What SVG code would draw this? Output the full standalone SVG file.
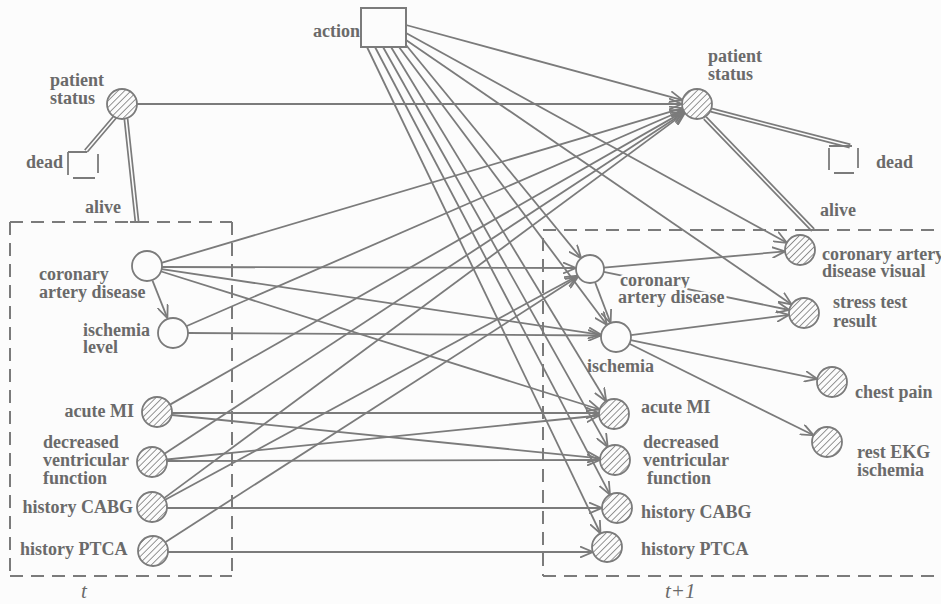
<svg xmlns="http://www.w3.org/2000/svg" width="941" height="604" viewBox="0 0 941 604">
<style>
.bg{fill:#fcfcfc}
.e{stroke:#7b7b7b;stroke-width:1.8;fill:none;marker-end:url(#ah)}
.ln{stroke:#7b7b7b;stroke-width:1.8;fill:none}
.dash{stroke:#7b7b7b;stroke-width:2;fill:none;stroke-dasharray:13 8}
.dbl{stroke:#7b7b7b;stroke-width:5;fill:none}
.dbli{stroke:#fcfcfc;stroke-width:1.6;fill:none}
.ch{fill:url(#hatch);stroke:#7b7b7b;stroke-width:1.8}
.co{fill:#fcfcfc;stroke:#7b7b7b;stroke-width:1.8}
.box{fill:#fcfcfc;stroke:#7b7b7b;stroke-width:2}
text{font-family:"Liberation Serif","Times New Roman",serif;font-weight:bold;font-size:18px;fill:#6a6a6a}
.it{font-style:italic;font-weight:normal;font-size:21px}
.halo{stroke:#fcfcfc;stroke-width:5;paint-order:stroke}
</style>
<defs>
<pattern id="hatch" patternUnits="userSpaceOnUse" width="4.6" height="4.6" patternTransform="rotate(45)">
<rect width="4.6" height="4.6" fill="#fcfcfc"/>
<line x1="0" y1="0" x2="0" y2="4.6" stroke="#7b7b7b" stroke-width="1.6"/>
</pattern>
<marker id="ah" markerUnits="userSpaceOnUse" markerWidth="14" markerHeight="12" viewBox="0 0 14 12" refX="13" refY="6" orient="auto">
<path d="M0,0.5 L13,6 L0,11.5" fill="none" stroke="#7b7b7b" stroke-width="1.8"/>
</marker>
</defs>
<rect class="bg" x="0" y="0" width="941" height="604"/>

<g id="frames">
<path class="dash" d="M10,222 H232 M10,222 V576 M10,576 H232 M232,222 V576"/>
<path class="dash" d="M543,230 H941 M543,238 V576 M543,576 H941"/>
</g>

<g id="connectors">
<!-- action -->
<line class="e" x1="406" y1="25" x2="682.5" y2="100.1"/>
<line class="e" x1="406" y1="33" x2="786.9" y2="242.8"/>
<line class="e" x1="406" y1="40" x2="791.6" y2="304.5"/>
<line class="e" x1="406" y1="45" x2="581.1" y2="258.2"/>
<line class="e" x1="399" y1="47" x2="607" y2="325"/>
<line class="e" x1="391" y1="47" x2="606.2" y2="401.2"/>
<line class="e" x1="383" y1="47" x2="607.7" y2="446.9"/>
<line class="e" x1="375" y1="47" x2="610" y2="494.7"/>
<line class="e" x1="367" y1="47" x2="600.5" y2="533.5"/>
<!-- patient status t -->
<line class="e" x1="137" y1="104" x2="682" y2="104"/>
<!-- coronary artery disease t -->
<line class="e" x1="161.4" y1="262.8" x2="682.6" y2="108.2"/>
<line class="e" x1="162" y1="267" x2="576" y2="268"/>
<line class="e" x1="161.8" y1="269.2" x2="601.2" y2="334.8"/>
<line class="e" x1="161.3" y1="271.5" x2="599.7" y2="409.5"/>
<line class="e" x1="152.6" y1="280.9" x2="167.4" y2="318.1"/>
<!-- ischemia level t -->
<line class="e" x1="186.8" y1="326" x2="683.2" y2="110"/>
<line class="e" x1="188" y1="333" x2="601" y2="335.5"/>
<!-- acute MI t -->
<line class="e" x1="170" y1="404.6" x2="684" y2="111.4"/>
<line class="e" x1="172" y1="413" x2="599" y2="413"/>
<line class="e" x1="171.9" y1="415" x2="600.1" y2="458.4"/>
<!-- decreased ventricular function t -->
<line class="e" x1="164.5" y1="453.8" x2="684.5" y2="112.2"/>
<line class="e" x1="166.9" y1="459.5" x2="599.1" y2="415.5"/>
<line class="e" x1="167" y1="461" x2="600" y2="460"/>
<!-- history CABG t -->
<line class="e" x1="164.1" y1="498.1" x2="684.9" y2="112.9"/>
<line class="e" x1="165.2" y1="499.8" x2="577.7" y2="275.7"/>
<line class="e" x1="167" y1="508" x2="602" y2="508"/>
<!-- history PTCA t -->
<line class="e" x1="165.6" y1="541.9" x2="578.2" y2="276.6"/>
<line class="e" x1="168" y1="552" x2="593" y2="552"/>
<!-- t+1 internal -->
<line class="e" x1="595" y1="282.1" x2="610.6" y2="323"/>
<line class="e" x1="604" y1="267.7" x2="785" y2="251.4"/>
<line class="e" x1="603.7" y1="271.8" x2="789.3" y2="310"/>
<line class="e" x1="630.9" y1="335.1" x2="789.1" y2="314.9"/>
<line class="e" x1="630.7" y1="340.1" x2="817.3" y2="378.9"/>
<line class="e" x1="629.4" y1="343.7" x2="813.6" y2="435.3"/>
<!-- dead / alive double links -->
<path class="dbl" d="M115,117 L86,151 M126,119 L137,222 M711,110 L850,146 M705,118 L813,230"/>
<path class="dbli" d="M115,117 L86,151 M126,119 L137,222 M711,110 L850,146 M705,118 L813,230"/>
<path class="ln" d="M130,222 H144 M806,230 H820"/>
</g>

<g id="action">
<rect class="box" x="361" y="8" width="45" height="39"/>
<text x="313" y="37">action</text>
</g>

<g id="ps-t">
<circle class="ch" cx="122" cy="104" r="15"/>
<text x="50" y="86">patient</text>
<text x="50" y="104">status</text>
</g>
<g id="dead-t">
<path class="ln" d="M68,152 H87 M68,152 V175 M98,154 V173 M73,178 H95" stroke-width="2"/>
<text x="26" y="168">dead</text>
</g>
<g id="alive-t"><text x="85" y="213">alive</text></g>
<g id="cad-t">
<circle class="co" cx="147" cy="266" r="15"/>
<text x="39" y="280">coronary</text>
<text x="39" y="298">artery disease</text>
</g>
<g id="isch-t">
<circle class="co" cx="173" cy="333" r="15"/>
<text x="83" y="336">ischemia</text>
<text x="83" y="353">level</text>
</g>
<g id="ami-t">
<circle class="ch" cx="157" cy="412" r="15"/>
<text x="134" y="417" text-anchor="end">acute MI</text>
</g>
<g id="dvf-t">
<circle class="ch" cx="152" cy="462" r="15"/>
<text x="43" y="448">decreased</text>
<text x="43" y="466">ventricular</text>
<text x="43" y="484">function</text>
</g>
<g id="cabg-t">
<circle class="ch" cx="152" cy="507" r="15"/>
<text x="133" y="513" text-anchor="end">history CABG</text>
</g>
<g id="ptca-t">
<circle class="ch" cx="153" cy="551" r="15"/>
<text x="20" y="555">history PTCA</text>
</g>
<g id="label-t"><text class="it" x="81" y="598">t</text></g>

<g id="ps-t1">
<circle class="ch" cx="697" cy="104" r="15"/>
<text x="708" y="62">patient</text>
<text x="708" y="80">status</text>
</g>
<g id="dead-t1">
<path class="ln" d="M829,146 H852 M829,148 V170 M858,148 V168 M834,173 H854" stroke-width="2"/>
<text x="876" y="168">dead</text>
</g>
<g id="alive-t1"><text x="820" y="216">alive</text></g>
<g id="cad-t1">
<circle class="co" cx="590" cy="269" r="14"/>
<text class="halo" x="620" y="286">coronary</text>
<text class="halo" x="618" y="303">artery disease</text>
</g>
<g id="isch-t1">
<circle class="co" cx="616" cy="337" r="15"/>
<text x="587" y="372">ischemia</text>
</g>
<g id="ami-t1">
<circle class="ch" cx="614" cy="414" r="15"/>
<text x="641" y="413">acute MI</text>
</g>
<g id="dvf-t1">
<circle class="ch" cx="615" cy="460" r="15"/>
<text x="643" y="448">decreased</text>
<text x="643" y="466">ventricular</text>
<text x="647" y="484">function</text>
</g>
<g id="cabg-t1">
<circle class="ch" cx="617" cy="508" r="15"/>
<text x="641" y="518">history CABG</text>
</g>
<g id="ptca-t1">
<circle class="ch" cx="607" cy="547" r="15"/>
<text x="641" y="555">history PTCA</text>
</g>
<g id="label-t1"><text class="it" x="665" y="598">t+1</text></g>

<g id="cad-visual">
<circle class="ch" cx="800" cy="250" r="15"/>
<text x="822" y="260">coronary artery</text>
<text x="822" y="277">disease visual</text>
</g>
<g id="stress-test">
<circle class="ch" cx="804" cy="313" r="15"/>
<text x="833" y="308">stress test</text>
<text x="833" y="327">result</text>
</g>
<g id="chest-pain">
<circle class="ch" cx="832" cy="382" r="15"/>
<text x="855" y="398">chest pain</text>
</g>
<g id="rest-ekg">
<circle class="ch" cx="827" cy="442" r="15"/>
<text x="857" y="458">rest EKG</text>
<text x="857" y="476">ischemia</text>
</g>
</svg>
